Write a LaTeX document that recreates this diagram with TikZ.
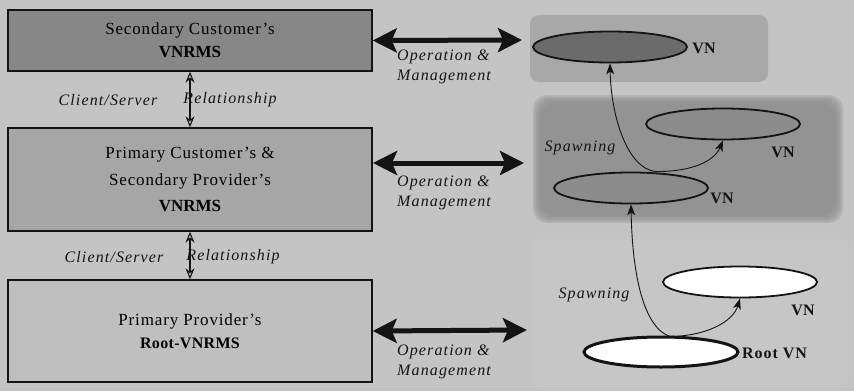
\documentclass[tikz,border=0pt]{standalone}
\usepackage{fontspec}
\setmainfont{Liberation Serif}
\usetikzlibrary{shapes.geometric,arrows.meta,calc}

\definecolor{bg}{gray}{0.77}
\definecolor{boxdark}{gray}{0.53}
\definecolor{boxmid}{gray}{0.65}
\definecolor{boxlight}{gray}{0.75}
\definecolor{paneltop}{gray}{0.66}
\definecolor{panelmid}{gray}{0.56}
\definecolor{panellow}{gray}{0.79}
\definecolor{vndark}{gray}{0.42}
\definecolor{vnmid}{gray}{0.55}
\definecolor{ink}{gray}{0.08}

\newcommand\boxtext{\fontsize{17}{23}\selectfont}
\newcommand\spaced[1]{{\addfontfeature{LetterSpace=5}#1}}
\newcommand\labfont{\fontsize{16}{20}\selectfont\itshape\addfontfeature{LetterSpace=7}}
\newcommand\vnfont{\fontsize{16}{20}\selectfont\bfseries}

\begin{document}
\begin{tikzpicture}[x=1pt,y=-1pt,
  mgmtbox/.style={draw=ink,line width=1.4pt,minimum width=364pt,inner sep=0pt,
    align=center,font=\boxtext},
  vnode/.style={ellipse,draw=ink,line width=1.8pt,minimum width=154pt,
    minimum height=31pt,inner sep=0pt},
  relarrow/.style={draw=ink,line width=1.1pt,
    {Stealth[length=11pt,width=9pt,open,fill=bg]}-{Stealth[length=11pt,width=9pt,open,fill=bg]}},
  oparrow/.style={draw=ink,line width=5pt,
    {Stealth[length=24pt,width=24pt,inset=5pt]}-{Stealth[length=24pt,width=24pt,inset=5pt]}},
  spawn/.style={draw=ink,line width=0.9pt,-{Stealth[length=11pt,width=8pt,inset=3pt]}},
  lab/.style={font=\labfont,inner sep=0pt,text=ink},
  vnlab/.style={font=\vnfont,inner sep=0pt,text=ink}]

% canvas
\fill[bg] (0,0) rectangle (854,391);
\useasboundingbox (0,0) rectangle (854,391);

% panels behind the virtual networks
\fill[paneltop,rounded corners=9pt] (530,15) rectangle (768,82);
\foreach \i in {0,...,5}
  \fill[panelmid,opacity=0.3,rounded corners=14pt]
    ({533+1.6*\i},{95+1.6*\i}) rectangle ({843-1.6*\i},{223-1.6*\i});
\foreach \i in {0,...,3}
  \fill[panellow,opacity=0.3,rounded corners=10pt]
    ({532+1.5*\i},{238+1.5*\i}) rectangle ({849-1.5*\i},{389-1.5*\i});

% management systems
\node[mgmtbox,fill=boxdark,minimum height=61pt] (sec) at (190,40.5)
  {\spaced{Secondary Customer's}\\{\bfseries VNRMS}};
\node[mgmtbox,fill=boxmid,minimum height=103pt] (prim) at (190,179.5)
  {\spaced{Primary Customer's \&}\\[4pt]\spaced{Secondary Provider's}\\[3pt]{\bfseries VNRMS}};
\node[mgmtbox,fill=boxlight,minimum height=102pt] (root) at (190,331)
  {\spaced{Primary Provider's}\\{\fontsize{16}{23}\selectfont\bfseries\addfontfeature{LetterSpace=2}Root-VNRMS}};

% client/server relationships
\draw[relarrow] (sec.south) -- (prim.north);
\draw[relarrow] (prim.south) -- (root.north);
\node[lab] (cs1) at (108,100) {Client/Server};
\node[lab] (rel1) at (230,100) {Relationship};
\node[lab] (cs2) at (114,257) {Client/Server};
\node[lab] (rel2) at (233,257) {Relationship};

% virtual networks
\node[vnode,fill=vndark] (vnTop) at (610,47) {};
\node[vnode,fill=vnmid] (vnA) at (723,124) {};
\node[vnode,fill=vnmid] (vnB) at (631,188) {};
\node[vnode,fill=white] (vnC) at (740,282) {};
\node[vnode,fill=white,line width=3pt,minimum height=30pt] (rootvn) at (661,352) {};

\node[vnlab] (lTop) at (704,48) {VN};
\node[vnlab] (lA) at (783,152) {VN};
\node[vnlab] (lB) at (722,198) {VN};
\node[vnlab] (lC) at (803,310) {VN};
\node[vnlab,anchor=west] (lRoot) at (742,353) {\addfontfeature{LetterSpace=6}Root VN};

% operation & management links
\coordinate (opTopR) at (522,40);
\coordinate (opMidL) at (373,163);
\coordinate (opMidR) at (524,163);
\coordinate (opLowR) at (527,330);
\draw[oparrow] (sec.east) -- (opTopR);
\draw[oparrow] (opMidL) -- (opMidR);
\draw[oparrow] (root.east) -- (opLowR);

\foreach \n/\ya/\yb in {1/57/77,2/183/203,3/352/372}{
  \node[lab,anchor=west] (op\n) at (397,\ya) {Operation \&};
  \node[lab,anchor=west] (mg\n) at (397,\yb) {Management};
}

% spawning
\coordinate (spA) at (655,171.5);
\coordinate (spB) at (670,336.5);
\draw[spawn] (spA) .. controls (628,168) and (611,118) .. (vnTop.south);
\draw[spawn] (spA) .. controls (690,172) and (714,162) .. (vnA.south);
\draw[spawn] (spB) .. controls (640,326) and (632,262) .. (vnB.south);
\draw[spawn] (spB) .. controls (706,336) and (733,322) .. (vnC.south);
\node[lab] (spw1) at (580,148) {Spawning};
\node[lab] (spw2) at (594,295) {Spawning};

\end{tikzpicture}
\end{document}
